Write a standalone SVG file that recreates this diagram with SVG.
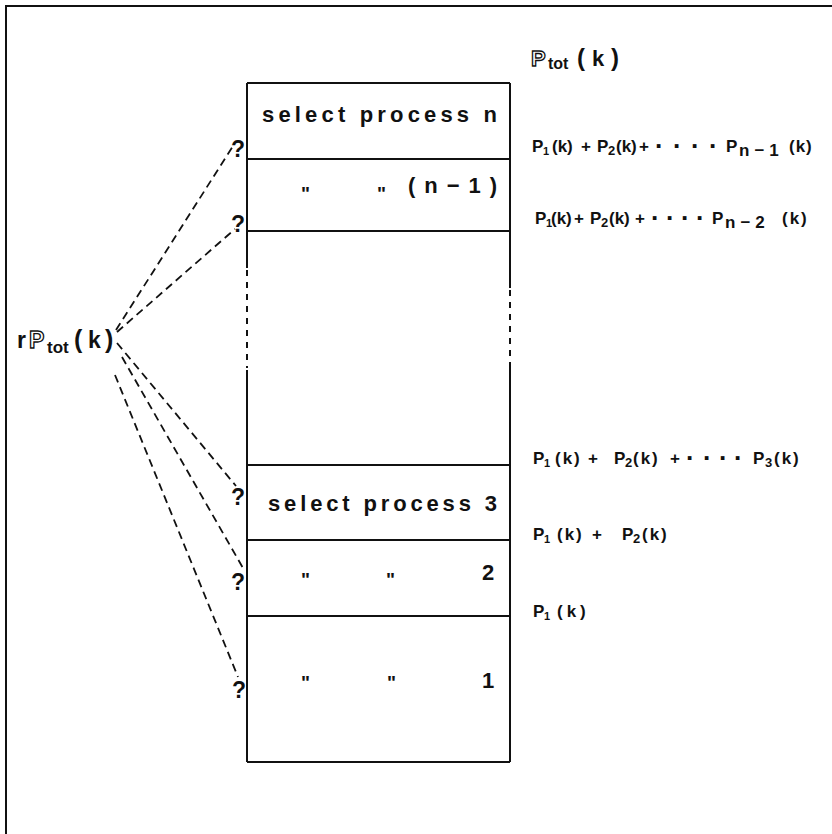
<svg xmlns="http://www.w3.org/2000/svg" width="832" height="834" viewBox="0 0 832 834">
<style>
.t{font-family:"Liberation Sans",Arial,Helvetica,sans-serif;font-weight:bold;fill:#111}
.lbl{font-size:17px}
.s1{font-size:11px}
.s2{font-size:13px}
.sn{font-size:17px;letter-spacing:5px}
.box{font-size:22px}
.q{font-size:23px}
.dit{font-size:19px}
.dot{font-size:26px}
.hol{fill:#fff;stroke:#111;stroke-width:1.3}
.ln{stroke:#111;stroke-width:2;fill:none}
.dl{stroke:#111;stroke-width:2;fill:none;stroke-dasharray:6 6}
.conn{stroke:#111;stroke-width:1.8;fill:none;stroke-dasharray:8 5}
</style>
<rect width="832" height="834" fill="#fff"/>
<path class="ln" d="M6 834V6H832"/>

<g id="stack">
<path class="ln" d="M247 83H510M247 762H510M247 83V268M247 370V762M510 83V288M510 362V762"/>
<path class="dl" d="M247 270V368M510 290V360"/>
</g>

<g id="row-n">
<path class="ln" d="M247 159H510"/>
<text class="t box" x="262" y="122" textLength="235" lengthAdjust="spacing">select process n</text>
</g>
<g id="row-n-1">
<path class="ln" d="M247 231H510"/>
<text class="t dit" x="301" y="200">"</text>
<text class="t dit" x="377" y="200">"</text>
<text class="t box" x="408" y="193" textLength="89" lengthAdjust="spacing">(n−1)</text>
</g>
<g id="row-3">
<path class="ln" d="M247 465H510"/>
<text class="t box" x="268" y="511" textLength="229" lengthAdjust="spacing">select process 3</text>
</g>
<g id="row-2">
<path class="ln" d="M247 540H510"/>
<text class="t dit" x="301" y="586">"</text>
<text class="t dit" x="386" y="586">"</text>
<text class="t box" x="482" y="580">2</text>
</g>
<g id="row-1">
<path class="ln" d="M247 616H510"/>
<text class="t dit" x="301" y="689">"</text>
<text class="t dit" x="387" y="689">"</text>
<text class="t box" x="482" y="688">1</text>
</g>

<g id="source">
<text class="t" x="17" y="348" font-size="23">r<tspan x="29" class="hol">P</tspan><tspan x="47" dy="5" font-size="17">tot</tspan><tspan x="74" dy="-5" font-size="25">(</tspan><tspan x="88">k</tspan><tspan x="105" font-size="25">)</tspan></text>
</g>

<g id="total">
<text class="t" x="531" y="66" font-size="22"><tspan class="hol">P</tspan><tspan x="548" dy="3" font-size="16">tot</tspan><tspan x="577" dy="-3" font-size="24">(</tspan><tspan x="592">k</tspan><tspan x="611" font-size="24">)</tspan></text>
</g>

<g id="questions">
<text class="t q" x="231" y="157">?</text>
<text class="t q" x="231" y="232">?</text>
<text class="t q" x="231" y="505">?</text>
<text class="t q" x="231" y="590">?</text>
<text class="t q" x="232" y="698">?</text>
</g>

<g id="sums">
<text class="t lbl" y="152"><tspan x="532">P</tspan><tspan class="s1" x="543" dy="3">1</tspan><tspan x="552" dy="-3">(k)</tspan><tspan x="581">+</tspan><tspan x="597">P</tspan><tspan class="s2" x="608" dy="3">2</tspan><tspan x="616" dy="-3">(k)</tspan><tspan x="639">+</tspan><tspan class="dot" x="655" dy="3">·</tspan><tspan class="dot" x="673">·</tspan><tspan class="dot" x="691">·</tspan><tspan class="dot" x="709">·</tspan><tspan x="726" dy="-3">P</tspan><tspan class="sn" x="739" dy="4">n−1</tspan><tspan x="789" dy="-4" letter-spacing="1">(k)</tspan></text>
<text class="t lbl" y="224"><tspan x="535">P</tspan><tspan class="s1" x="546" dy="3">1</tspan><tspan x="551" dy="-3">(k)</tspan><tspan x="574">+</tspan><tspan x="590">P</tspan><tspan class="s2" x="601" dy="3">2</tspan><tspan x="609" dy="-3">(k)</tspan><tspan x="635">+</tspan><tspan class="dot" x="651" dy="3">·</tspan><tspan class="dot" x="666">·</tspan><tspan class="dot" x="681">·</tspan><tspan class="dot" x="696">·</tspan><tspan x="712" dy="-3">P</tspan><tspan class="sn" x="725" dy="4">n−2</tspan><tspan x="782" dy="-4" letter-spacing="2">(k)</tspan></text>
<text class="t lbl" y="464"><tspan x="533">P</tspan><tspan class="s1" x="544" dy="3">1</tspan><tspan x="555" dy="-3" letter-spacing="2">(k)</tspan><tspan x="588">+</tspan><tspan x="614">P</tspan><tspan class="s2" x="625" dy="3">2</tspan><tspan x="633" dy="-3" letter-spacing="2">(k)</tspan><tspan x="670">+</tspan><tspan class="dot" x="686" dy="3">·</tspan><tspan class="dot" x="703">·</tspan><tspan class="dot" x="719">·</tspan><tspan class="dot" x="734">·</tspan><tspan x="753" dy="-3">P</tspan><tspan class="s2" x="765" dy="3">3</tspan><tspan x="774" dy="-3" letter-spacing="2">(k)</tspan></text>
<text class="t lbl" y="540"><tspan x="533">P</tspan><tspan class="s1" x="544" dy="3">1</tspan><tspan x="557" dy="-3" letter-spacing="2">(k)</tspan><tspan x="592">+</tspan><tspan x="622">P</tspan><tspan class="s2" x="633" dy="3">2</tspan><tspan x="642" dy="-3" letter-spacing="2">(k)</tspan></text>
<text class="t lbl" y="617"><tspan x="533">P</tspan><tspan class="s1" x="544" dy="3">1</tspan><tspan x="557" dy="-3" letter-spacing="4">(k)</tspan></text>
</g>

<g id="connectors">
<path class="conn" d="M116 330L233 146"/>
<path class="conn" d="M117 332L235 229"/>
<path class="conn" d="M117 343L236 486"/>
<path class="conn" d="M122 357L243 568"/>
<path class="conn" d="M115 375L238 677"/>
</g>
</svg>
